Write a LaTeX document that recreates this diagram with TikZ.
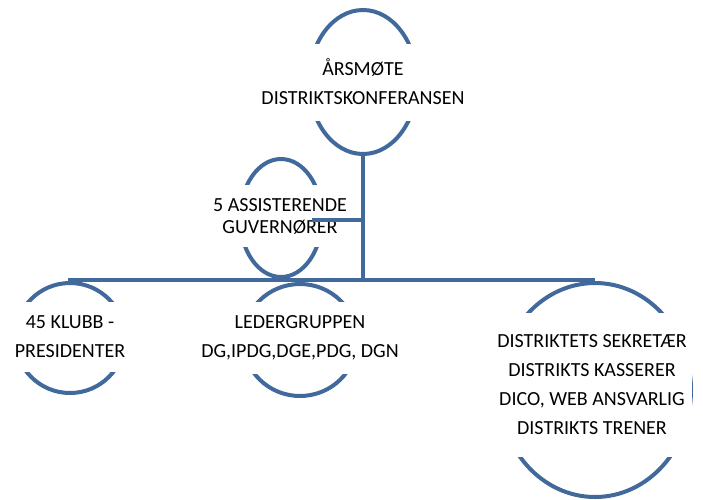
\documentclass[tikz,border=0pt]{standalone}
\usepackage{fontspec}
\setmainfont{Carlito}
\usetikzlibrary{shapes.geometric}
\definecolor{lineblue}{HTML}{41699C}
\begin{document}
\begin{tikzpicture}[x=1pt,y=-1pt,
  ell/.style={draw=lineblue,line width=4pt,ellipse,inner sep=0pt},
  cover/.style={fill=white,inner sep=0pt,align=center,font=\fontsize{20}{29}\selectfont},
  link/.style={draw=lineblue,line width=4pt}]
\useasboundingbox (0,0) rectangle (703,499);
% ellipses
\node[ell,minimum width=108pt,minimum height=144pt] (top) at (363,82) {};
\node[ell,minimum width=82pt,minimum height=118pt] (ag) at (281,218) {};
\node[ell,minimum width=110pt,minimum height=110pt] (klubb) at (70,338) {};
\node[ell,minimum width=114pt,minimum height=112pt] (leder) at (300,340) {};
\node[ell,minimum width=192pt,minimum height=214pt] (distr) at (595,390) {};
% white text boxes
\node[cover,minimum width=210pt,minimum height=77pt] (topt) at (363,82) {ÅRSMØTE\\DISTRIKTSKONFERANSEN};
\node[cover,font=\fontsize{20}{22}\selectfont,minimum width=140pt,minimum height=62pt] (agt) at (280,216) {5 ASSISTERENDE\\GUVERNØRER};
\node[cover,minimum width=116pt,minimum height=70pt] (klubbt) at (70,337) {45 KLUBB -\\PRESIDENTER};
\node[cover,minimum width=200pt,minimum height=72pt] (ledert) at (300,338) {LEDERGRUPPEN\\DG,IPDG,DGE,PDG, DGN};
\node[cover,minimum width=200pt,minimum height=144pt] (distrt) at (592,385) {DISTRIKTETS SEKRETÆR\\DISTRIKTS KASSERER\\DICO, WEB ANSVARLIG\\DISTRIKTS TRENER};
% connectors
\coordinate (trunk) at (363,280);
\coordinate (agend) at (312,220);
\coordinate (agjoin) at (363,220);
\coordinate (busL) at (68,280);
\coordinate (busR) at (595,280);
\draw[link] (top.south) -- (trunk);
\draw[link] (agend) -- (agjoin);
\draw[link] (busL) -- (busR);
\end{tikzpicture}
\end{document}
